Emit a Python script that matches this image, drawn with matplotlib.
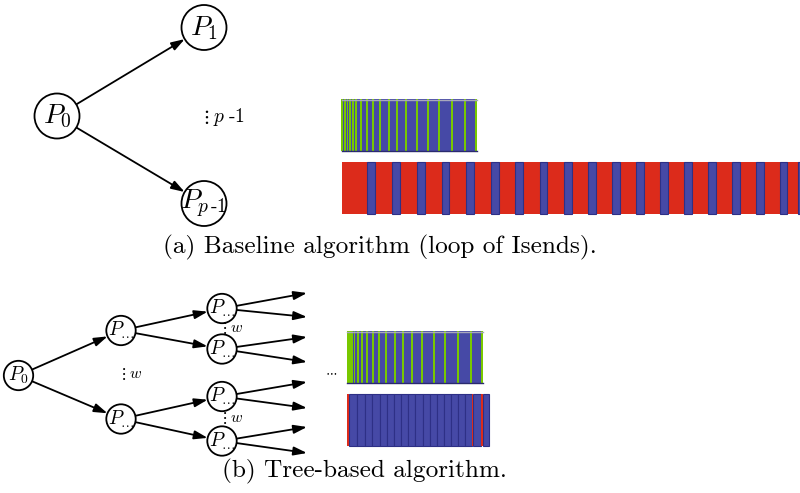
import numpy as np
import matplotlib
matplotlib.use("Agg")
import matplotlib.pyplot as plt
from matplotlib.patches import Circle, FancyArrowPatch

plt.rcParams['mathtext.fontset'] = 'cm'

# ---------------- data ----------------
# (a) baseline: sender timeline (blue busy span with green Isend ticks)
base_send_length = 135.0
base_send_ticks = [0.5, 3.2, 6.0, 8.6, 11.3, 14.5, 19.2, 25.2, 31.5, 38.8,
                   47.2, 55.5, 64.8, 75.5, 86.2, 97.8, 110.2, 123.5, 134.2]
# receiver timeline: red waiting span with blue receive stripes
base_recv_length = 470.0
base_recv_stripes = [25.6, 50.6, 75.6, 100.0, 124.6, 149.3, 173.6, 198.0, 222.6,
                     246.6, 270.6, 294.6, 318.6, 342.6, 366.6, 390.6, 414.3, 438.0, 456.0]
base_recv_stripe_w = 7.7

# (b) tree-based: sender timeline
tree_send_length = 135.4
tree_send_ticks = [0.7, 2.7, 4.7, 7.0, 10.7, 14.7, 19.4, 25.4, 31.7, 39.0, 47.4,
                   55.7, 65.0, 75.0, 86.4, 98.0, 110.4, 123.7, 134.4]
# receiver timeline: segments (start, end, kind)
tree_recv_starts = [0.0, 2.0, 9.4, 17.7, 25.0, 32.4, 39.4, 46.7, 53.7, 61.0, 68.0,
                    75.4, 82.4, 89.4, 96.4, 103.7, 110.7, 117.7, 125.0, 125.9, 133.4, 136.0]
tree_recv_ends = [2.0, 9.4, 17.7, 25.0, 32.4, 39.4, 46.7, 53.7, 61.0, 68.0, 75.4,
                  82.4, 89.4, 96.4, 103.7, 110.7, 117.7, 125.0, 125.9, 133.4, 136.0, 141.7]
tree_recv_kinds = ['r'] + ['b'] * 17 + ['r', 'b', 'r', 'b']

# captions
caption_a = "(a) Baseline algorithm (loop of Isends)."
caption_b = "(b) Tree-based algorithm."

# ---------------- styles ----------------
BLUE = '#4649a6'
BLUE_EDGE = '#2e3086'
GREEN = '#78c800'
RED = '#dc2b1b'

fig = plt.figure(figsize=(8.0, 4.93), dpi=100)
ax = fig.add_axes([0, 0, 1, 1])
ax.set_xlim(0, 800)
ax.set_ylim(493, 0)
ax.axis('off')


def node(c, r, label, fs):
    ax.add_patch(Circle(c, r, facecolor='white', edgecolor='black', lw=1.3, zorder=3))
    ax.text(c[0], c[1], label, fontsize=fs, ha='center', va='center', zorder=4)


def arrow(p, q, r1, r2):
    p = np.array(p, float); q = np.array(q, float)
    u = (q - p) / np.linalg.norm(q - p)
    s = p + r1 * u
    e = q - r2 * u
    ax.add_patch(FancyArrowPatch(tuple(s), tuple(e),
                                 arrowstyle='-|>,head_length=0.8,head_width=0.26',
                                 mutation_scale=10, lw=1.3, color='black',
                                 shrinkA=0, shrinkB=0, zorder=2))


# ---------------- (a) diagram ----------------
P0a, P1a, Ppa = (57, 116), (204, 27.5), (204, 203.5)
ra = 22.5
arrow(P0a, P1a, ra, ra)
arrow(P0a, Ppa, ra, ra)
node(P0a, ra, r'$P_0$', 20)
node(P1a, ra, r'$P_1$', 20)
node(Ppa, ra, r'$P_{p\,\text{-}1}$', 20)
ax.text(201, 117, r'$\vdots\,p\;\text{-}1$', fontsize=14, ha='left', va='center')

# (a) timelines
xa = 341.5
ya_send, ya_recv, hbar = 125.0, 188.0, 52.0
ax.barh(ya_send, base_send_length, left=xa, height=hbar, color=BLUE, zorder=1)
tw = [2.6] + [1.6] * 5 + [1.9] * (len(base_send_ticks) - 7) + [2.4]
ax.barh([ya_send] * len(base_send_ticks), tw,
        left=[xa + t - w / 2 for t, w in zip(base_send_ticks, tw)],
        height=hbar, color=GREEN, zorder=2)
ax.plot([xa, xa + base_send_length], [ya_send - hbar / 2 + 0.5] * 2, color='#a8a8bc', lw=1.0, zorder=3)
ax.plot([xa, xa + base_send_length], [ya_send + hbar / 2 - 0.5] * 2, color='#2a2a6e', lw=1.0, zorder=3)

ax.barh(ya_recv, base_recv_length, left=xa, height=hbar, color=RED, zorder=1)
ax.barh([ya_recv] * len(base_recv_stripes), base_recv_stripe_w,
        left=[xa + s for s in base_recv_stripes], height=hbar,
        color=BLUE, edgecolor=BLUE_EDGE, lw=0.8, zorder=2)

ax.text(380, 253, caption_a, fontsize=18.2, family='cmr10', ha='center', va='baseline')

# ---------------- (b) diagram ----------------
rb = 14.7
P0b = (18.5, 375.5)
L1 = [(121, 330.5), (121, 419)]
L2 = [(222, 308.5), (222, 349), (222, 396.5), (222, 441)]
leaf_y = [293, 317, 337, 362, 382, 408, 427, 453]
leaf_x = 307
for c in L1:
    arrow(P0b, c, rb, rb)
for i, c in enumerate(L2):
    arrow(L1[i // 2], c, rb, rb)
    for j in range(2):
        arrow(c, (leaf_x, leaf_y[2 * i + j]), rb, 0)
node(P0b, rb, r'$P_0$', 14)
for c in L1 + L2:
    node(c, rb, r'$P_{\ldots}$', 14)
ax.text(119, 374, r'$\vdots\,w$', fontsize=11.5, ha='left', va='center')
ax.text(220, 328, r'$\vdots\,w$', fontsize=11.5, ha='left', va='center')
ax.text(220, 418, r'$\vdots\,w$', fontsize=11.5, ha='left', va='center')
ax.text(331, 372, r'$\cdots$', fontsize=9, ha='center', va='center')

# (b) timelines
xb = 347.3
yb_send, yb_recv = 357.0, 420.0
ax.barh(yb_send, tree_send_length, left=xb, height=hbar, color=BLUE, zorder=1)
tw = [2.2] + [1.6] * 5 + [1.9] * (len(tree_send_ticks) - 7) + [2.4]
ax.barh([yb_send] * len(tree_send_ticks), tw,
        left=[xb + t - w / 2 for t, w in zip(tree_send_ticks, tw)],
        height=hbar, color=GREEN, zorder=2)
ax.plot([xb, xb + tree_send_length], [yb_send - hbar / 2 + 0.5] * 2, color='#a8a8bc', lw=1.0, zorder=3)
ax.plot([xb, xb + tree_send_length], [yb_send + hbar / 2 - 0.5] * 2, color='#2a2a6e', lw=1.0, zorder=3)

for s, e, k in zip(tree_recv_starts, tree_recv_ends, tree_recv_kinds):
    if k == 'b':
        ax.barh(yb_recv, e - s, left=xb + s, height=hbar, color=BLUE,
                edgecolor=BLUE_EDGE, lw=0.8, zorder=1)
    else:
        ax.barh(yb_recv, e - s, left=xb + s, height=hbar, color=RED, lw=0, zorder=2)

ax.text(364, 477, caption_b, fontsize=18.2, family='cmr10', ha='center', va='baseline')

fig.savefig('out.png', dpi=100)
